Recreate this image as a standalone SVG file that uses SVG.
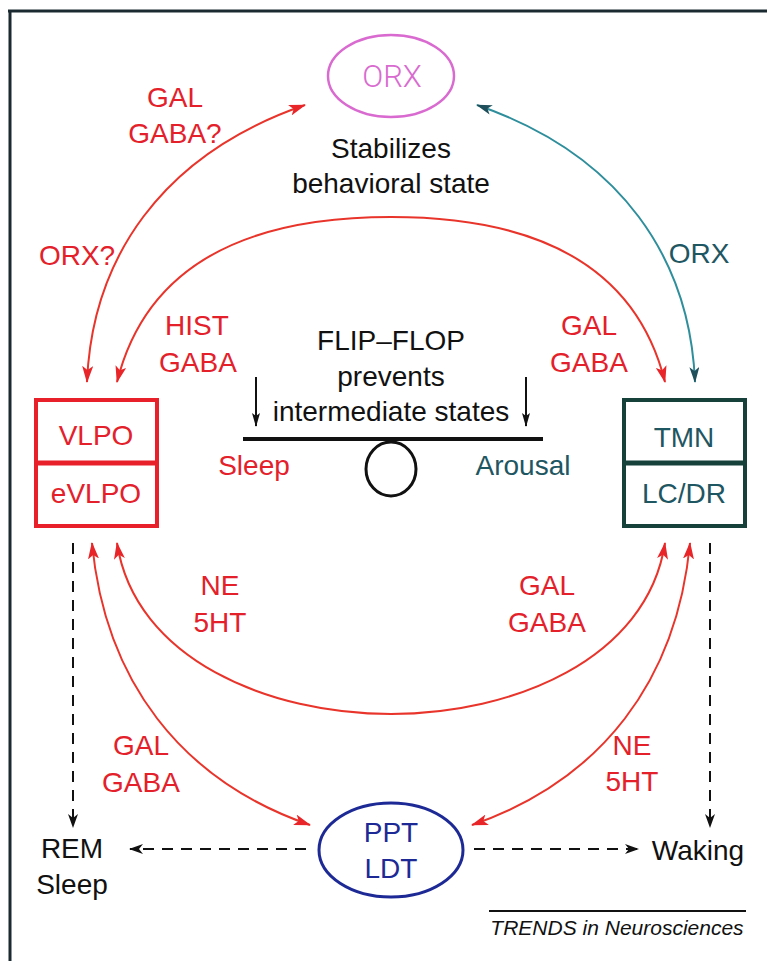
<svg xmlns="http://www.w3.org/2000/svg" width="767" height="961" viewBox="0 0 767 961">
<style>
  text { font-family: "Liberation Sans", Arial, sans-serif; font-size: 28px; text-anchor: middle; }
  .red { fill: #e4202a; }
  .blk { fill: #111111; }
  .teal { fill: #1e5662; }
  .blue { fill: #1d2a96; }
  .pink { fill: #d96bd0; font-family: Roboto, "Liberation Sans", sans-serif; font-weight: 300; font-size: 31px; }
  .ital { font-style: italic; font-size: 21px; }
  .arcR { fill: none; stroke: #e8342a; stroke-width: 2; }
  .arcT { fill: none; stroke: #2e8e9c; stroke-width: 2; }
  .dash { fill: none; stroke: #111111; stroke-width: 2; stroke-dasharray: 11 8; }
</style>
<defs>
  <marker id="ar" viewBox="0 0 17 11" refX="16" refY="5.5" markerWidth="17" markerHeight="11" markerUnits="userSpaceOnUse" orient="auto-start-reverse">
    <path d="M0,0 L17,5.5 L0,11 L4,5.5 z" fill="#e8262a"/>
  </marker>
  <marker id="at" viewBox="0 0 16 10" refX="15" refY="5" markerWidth="16" markerHeight="10" markerUnits="userSpaceOnUse" orient="auto-start-reverse">
    <path d="M0,0 L16,5 L0,10 L4,5 z" fill="#1e4f5a"/>
  </marker>
  <marker id="ab" viewBox="0 0 14 10" refX="13" refY="5" markerWidth="14" markerHeight="10" markerUnits="userSpaceOnUse" orient="auto">
    <path d="M0,0 L14,5 L0,10 L4,5 z" fill="#111111"/>
  </marker>
  <marker id="af" viewBox="0 0 14 8" refX="13" refY="4" markerWidth="14" markerHeight="8" markerUnits="userSpaceOnUse" orient="auto">
    <path d="M0,0 L14,4 L0,8 L3,4 z" fill="#111111"/>
  </marker>
</defs>

<!-- frame -->
<g id="frame">
  <line x1="8" y1="11" x2="767" y2="11" stroke="#1a2a30" stroke-width="3"/>
  <line x1="10" y1="10" x2="10" y2="961" stroke="#1a2a30" stroke-width="3"/>
</g>

<!-- connectors -->
<g id="connectors">
  <path class="arcR" d="M 87 382 C 92 260, 160 155, 305 105" marker-start="url(#ar)" marker-end="url(#ar)"/>
  <path class="arcT" d="M 477 105 C 622 155, 690 260, 695 382" marker-start="url(#at)" marker-end="url(#at)"/>
  <path class="arcR" d="M 117 382 C 150 250, 270 217, 391 217 C 512 217, 632 250, 665 382" marker-start="url(#ar)" marker-end="url(#ar)"/>
  <path class="arcR" d="M 117 543 C 135 660, 270 714, 391 714 C 512 714, 647 660, 665 543" marker-start="url(#ar)" marker-end="url(#ar)"/>
  <path class="arcR" d="M 92 543 C 105 680, 180 780, 310 825" marker-start="url(#ar)" marker-end="url(#ar)"/>
  <path class="arcR" d="M 690 543 C 677 680, 602 780, 472 825" marker-start="url(#ar)" marker-end="url(#ar)"/>
  <path class="dash" d="M 73 543 L 73 827" marker-end="url(#ab)"/>
  <path class="dash" d="M 710 543 L 710 827" marker-end="url(#ab)"/>
  <path class="dash" d="M 306 849 L 130 849" marker-end="url(#ab)"/>
  <path class="dash" d="M 474 849 L 638 849" marker-end="url(#ab)"/>
</g>

<!-- ORX node -->
<g id="orx">
  <ellipse cx="391" cy="76" rx="63" ry="41" fill="none" stroke="#d96bd0" stroke-width="2.5"/>
  <text class="pink" x="392" y="87">ORX</text>
</g>
<g id="stabilizes">
  <text class="blk" x="391" y="158">Stabilizes</text>
  <text class="blk" x="391" y="193">behavioral state</text>
</g>

<!-- VLPO node -->
<g id="vlpo">
  <rect x="36" y="400" width="121" height="126" fill="none" stroke="#e8202a" stroke-width="4"/>
  <line x1="36" y1="463" x2="157" y2="463" stroke="#e8202a" stroke-width="5"/>
  <text class="red" x="96" y="445">VLPO</text>
  <text class="red" x="96" y="503">eVLPO</text>
</g>

<!-- TMN node -->
<g id="tmn">
  <rect x="624" y="400" width="121" height="126" fill="none" stroke="#15413a" stroke-width="4"/>
  <line x1="624" y1="463" x2="745" y2="463" stroke="#15413a" stroke-width="5"/>
  <text class="teal" x="684" y="447">TMN</text>
  <text class="teal" x="684" y="503">LC/DR</text>
</g>

<!-- PPT/LDT node -->
<g id="ppt">
  <ellipse cx="391" cy="850" rx="72" ry="47" fill="none" stroke="#1d2a96" stroke-width="3"/>
  <text class="blue" x="391" y="842">PPT</text>
  <text class="blue" x="391" y="878">LDT</text>
</g>

<!-- flip-flop -->
<g id="flipflop">
  <text class="blk" x="391" y="350">FLIP–FLOP</text>
  <text class="blk" x="391" y="386">prevents</text>
  <text class="blk" x="391" y="421">intermediate states</text>
  <line x1="256" y1="377" x2="256" y2="426" stroke="#111111" stroke-width="2" marker-end="url(#af)"/>
  <line x1="526" y1="377" x2="526" y2="426" stroke="#111111" stroke-width="2" marker-end="url(#af)"/>
  <line x1="243" y1="439" x2="543" y2="439" stroke="#111111" stroke-width="4"/>
  <ellipse cx="391" cy="469" rx="25" ry="27" fill="none" stroke="#111111" stroke-width="3"/>
  <text class="red" x="254" y="475">Sleep</text>
  <text class="teal" x="523" y="475">Arousal</text>
</g>

<!-- outcome nodes -->
<g id="rem">
  <text class="blk" x="72" y="858">REM</text>
  <text class="blk" x="72" y="894">Sleep</text>
</g>
<g id="waking">
  <text class="blk" x="698" y="860">Waking</text>
</g>

<!-- connector labels -->
<g id="labels">
  <text class="red" x="175" y="107">GAL</text>
  <text class="red" x="175" y="143">GABA?</text>
  <text class="red" x="77" y="265">ORX?</text>
  <text class="teal" x="699" y="263">ORX</text>
  <text class="red" x="197" y="335">HIST</text>
  <text class="red" x="198" y="372">GABA</text>
  <text class="red" x="589" y="335">GAL</text>
  <text class="red" x="589" y="372">GABA</text>
  <text class="red" x="220" y="595">NE</text>
  <text class="red" x="220" y="632">5HT</text>
  <text class="red" x="547" y="595">GAL</text>
  <text class="red" x="547" y="632">GABA</text>
  <text class="red" x="141" y="755">GAL</text>
  <text class="red" x="141" y="792">GABA</text>
  <text class="red" x="632" y="755">NE</text>
  <text class="red" x="632" y="791">5HT</text>
</g>

<!-- credit -->
<g id="credit">
  <line x1="489" y1="911" x2="746" y2="911" stroke="#111111" stroke-width="2"/>
  <text class="blk ital" x="617" y="935">TRENDS in Neurosciences</text>
</g>
</svg>
